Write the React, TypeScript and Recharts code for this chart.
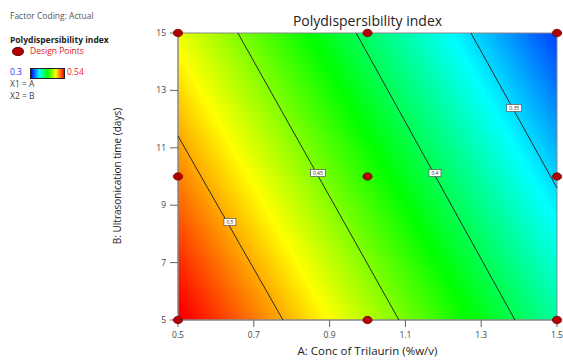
import React from 'react';
import { ScatterChart, Scatter, XAxis, YAxis, ReferenceArea } from 'recharts';

// ---- data ----
const xTicks = [0.5, 0.7, 0.9, 1.1, 1.3, 1.5];
const yTicks = [5, 7, 9, 11, 13, 15];

const designPoints = [
  { a: 0.5, b: 15 }, { a: 1.0, b: 15 }, { a: 1.5, b: 15 },
  { a: 0.5, b: 10 }, { a: 1.0, b: 10 }, { a: 1.5, b: 10 },
  { a: 0.5, b: 5 }, { a: 1.0, b: 5 }, { a: 1.5, b: 5 },
];

const contour050 = [{ a: 0.5, b: 11.41 }, { a: 0.777, b: 5 }];
const contour045 = [{ a: 0.658, b: 15 }, { a: 1.083, b: 5 }];
const contour040 = [{ a: 0.97, b: 15 }, { a: 1.389, b: 5 }];
const contour035 = [{ a: 1.273, b: 15 }, { a: 1.5, b: 9.6 }];

const contourLabels = [
  { a: 0.637, b: 8.41, label: '0.5' },
  { a: 0.869, b: 10.12, label: '0.45' },
  { a: 1.178, b: 10.12, label: '0.4' },
  { a: 1.387, b: 12.39, label: '0.35' },
];

// fitted linear response surface: PDI = c0 + cA*A + cB*B
const modelC0 = 0.659;
const modelCA = -0.161;
const modelCB = -0.00685;
const colorMin = 0.3;
const colorMax = 0.54;
const xDomain = [0.5, 1.5];
const yDomain = [5, 15];

// gradient vector in objectBoundingBox space (u to the right, w downward)
const du = modelCA * (xDomain[1] - xDomain[0]);
const dw = -modelCB * (yDomain[1] - yDomain[0]);
const v00 = modelC0 + modelCA * xDomain[0] + modelCB * yDomain[1];
const d2 = du * du + dw * dw;
const s1 = (colorMin - v00) / d2;
const s2 = (colorMax - v00) / d2;

const FONT = '"Open Sans", "Noto Sans", sans-serif';

const noShape = () => <g />;

const DesignPoint = (props: any) => {
  const { cx, cy } = props;
  return <ellipse cx={cx} cy={cy} rx={4.6} ry={3.7} fill="#b40000" stroke="#6e0000" strokeWidth={0.8} />;
};

const ContourLabel = (props: any) => {
  const { cx, cy, payload } = props;
  const w = payload.label.length > 3 ? 15 : 12;
  return (
    <g>
      <rect x={cx - w / 2} y={cy - 3.5} width={w} height={7} fill="#ffffff" stroke="#555" strokeWidth={0.7} />
      <text x={cx} y={cy + 2} fontSize={5} textAnchor="middle" fill="#333" fontFamily={FONT}>
        {payload.label}
      </text>
    </g>
  );
};

const lineStyle = { stroke: '#2a2a2a', strokeWidth: 1 };

export default function App() {
  return (
    <div style={{ position: 'absolute', left: 0, top: 0, width: 563, height: 360, background: '#fff', fontFamily: FONT, overflow: 'hidden' }}>
      <ScatterChart width={563} height={360} margin={{ top: 33, right: 6, bottom: 0, left: 110 }}>
        <defs>
          <linearGradient id="pdiGrad" x1={s1 * du} y1={s1 * dw} x2={s2 * du} y2={s2 * dw} gradientUnits="objectBoundingBox">
            <stop offset="0" stopColor="#0000ff" />
            <stop offset="0.25" stopColor="#00ffff" />
            <stop offset="0.5" stopColor="#00ff00" />
            <stop offset="0.75" stopColor="#ffff00" />
            <stop offset="1" stopColor="#ff0000" />
          </linearGradient>
        </defs>
        <XAxis
          type="number"
          dataKey="a"
          domain={xDomain}
          ticks={xTicks}
          height={40}
          tickSize={7}
          tickMargin={5}
          tick={{ fontSize: 8.5, fill: '#444', fontFamily: FONT }}
          tickLine={{ stroke: '#666' }}
          axisLine={{ stroke: '#888' }}
          tickFormatter={(v: number) => v.toFixed(1)}
        />
        <YAxis
          type="number"
          dataKey="b"
          domain={yDomain}
          ticks={yTicks}
          width={68}
          tickSize={8}
          tickMargin={4}
          tick={{ fontSize: 8.5, fill: '#444', fontFamily: FONT }}
          tickLine={{ stroke: '#666' }}
          axisLine={{ stroke: '#888' }}
        />
        <ReferenceArea x1={xDomain[0]} x2={xDomain[1]} y1={yDomain[0]} y2={yDomain[1]} fill="url(#pdiGrad)" fillOpacity={1} stroke="#888" strokeWidth={1} />
        <Scatter data={contour050} line={lineStyle} shape={noShape} isAnimationActive={false} />
        <Scatter data={contour045} line={lineStyle} shape={noShape} isAnimationActive={false} />
        <Scatter data={contour040} line={lineStyle} shape={noShape} isAnimationActive={false} />
        <Scatter data={contour035} line={lineStyle} shape={noShape} isAnimationActive={false} />
        <Scatter data={contourLabels} shape={ContourLabel} isAnimationActive={false} />
        <Scatter data={designPoints} shape={DesignPoint} isAnimationActive={false} />
      </ScatterChart>

      {/* title */}
      <div style={{ position: 'absolute', left: 178, width: 379, top: 12, textAlign: 'center', fontSize: 14, color: '#222', lineHeight: '18px' }}>
        Polydispersibility index
      </div>
      {/* x axis label */}
      <div style={{ position: 'absolute', left: 178, width: 379, top: 343, textAlign: 'center', fontSize: 11.5, color: '#222', lineHeight: '16px' }}>
        A: Conc of Trilaurin (%w/v)
      </div>
      {/* y axis label */}
      <div style={{ position: 'absolute', left: 117 - 100, width: 200, top: 176 - 8, textAlign: 'center', fontSize: 10, color: '#222', lineHeight: '16px', transform: 'rotate(-90deg)' }}>
        B: Ultrasonication time (days)
      </div>

      {/* left legend */}
      <div style={{ position: 'absolute', left: 10, top: 10, fontSize: 8.5, color: '#555', lineHeight: '12px' }}>Factor Coding: Actual</div>
      <div style={{ position: 'absolute', left: 10, top: 34, fontSize: 8.5, color: '#222', fontWeight: 'bold', lineHeight: '12px' }}>Polydispersibility index</div>
      <div style={{ position: 'absolute', left: 12, top: 47, width: 10, height: 7, borderRadius: '50%', background: '#b40000', border: '0.5px solid #6e0000' }} />
      <div style={{ position: 'absolute', left: 30, top: 45, fontSize: 8.5, color: '#e02020', lineHeight: '12px' }}>Design Points</div>
      <div style={{ position: 'absolute', left: 10, top: 66, fontSize: 8.5, color: '#3030ff', lineHeight: '12px' }}>0.3</div>
      <div style={{ position: 'absolute', left: 30, top: 68, width: 33, height: 9, border: '1px solid #222', background: 'linear-gradient(to right, #0000ff, #00ffff, #00ff00, #ffff00, #ff0000)' }} />
      <div style={{ position: 'absolute', left: 67, top: 66, fontSize: 8.5, color: '#ff2020', lineHeight: '12px' }}>0.54</div>
      <div style={{ position: 'absolute', left: 10, top: 78, fontSize: 8.5, color: '#444', lineHeight: '12px' }}>X1 = A</div>
      <div style={{ position: 'absolute', left: 10, top: 90, fontSize: 8.5, color: '#444', lineHeight: '12px' }}>X2 = B</div>
    </div>
  );
}
